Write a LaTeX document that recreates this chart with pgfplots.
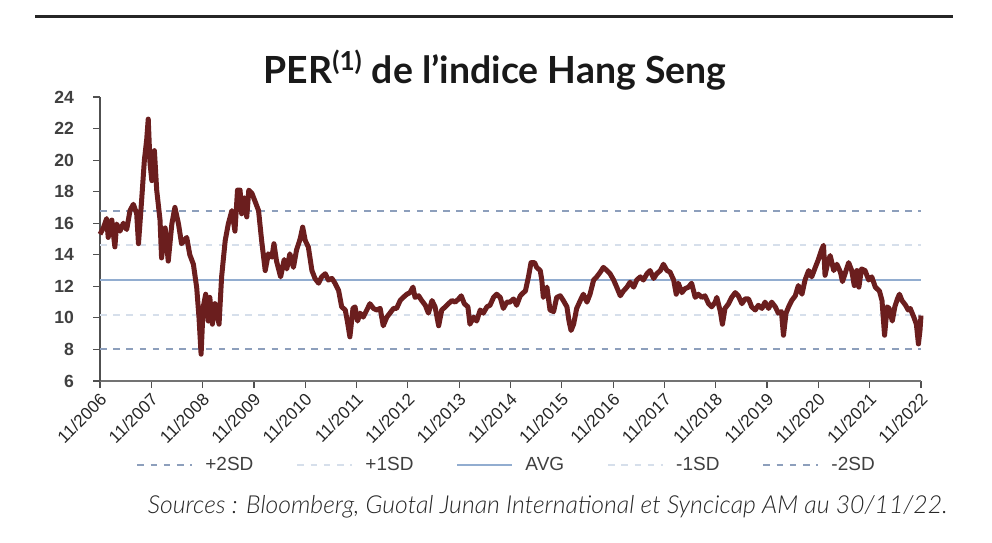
\documentclass[border=0pt]{standalone}
\usepackage{pgfplots}
\pgfplotsset{compat=1.18}
\usepackage{fontspec}
\setmainfont{Liberation Sans}
\newfontfamily\titlefont{Lato}
\newfontfamily\srcfont{Lato Light}
\definecolor{perline}{HTML}{6B1E1E}
\definecolor{sdtwo}{HTML}{8D9FBC}
\definecolor{sdone}{HTML}{D6DFEB}
\definecolor{avgc}{HTML}{92ADD0}
\definecolor{axisc}{HTML}{505050}

\pgfplotstableread{
t v
0 15.3
0.065 15.7
0.13 16.3
0.16 15.1
0.23 16.2
0.29 14.5
0.325 15.95
0.39 15.5
0.455 16.0
0.52 15.6
0.585 16.8
0.65 17.2
0.715 16.6
0.75 14.7
0.81 17.4
0.865 20.0
0.91 21.3
0.94 22.6
0.975 19.8
1.01 18.7
1.06 20.6
1.105 18.1
1.17 16.2
1.2 13.8
1.27 15.7
1.33 13.6
1.4 15.95
1.46 17.0
1.53 15.95
1.59 14.7
1.69 15.1
1.75 14.0
1.82 13.4
1.885 11.9
1.93 10.0
1.97 7.7
2.01 10.65
2.06 11.5
2.11 9.8
2.14 11.3
2.19 9.6
2.24 10.9
2.32 9.6
2.37 12.6
2.44 14.9
2.5 15.95
2.57 16.8
2.63 15.5
2.68 18.1
2.73 18.1
2.76 16.6
2.81 17.6
2.86 16.4
2.9 18.1
2.96 17.9
3.02 17.4
3.09 16.8
3.15 14.9
3.22 13.0
3.28 14.06
3.35 13.85
3.39 14.7
3.44 13.6
3.52 12.6
3.59 13.7
3.64 13.1
3.70 14.06
3.77 13.2
3.83 14.3
3.90 15.0
3.95 15.75
4.00 14.9
4.06 14.5
4.13 13.0
4.19 12.5
4.26 12.2
4.32 12.6
4.39 12.8
4.45 12.4
4.52 12.5
4.58 12.2
4.65 11.74
4.71 10.7
4.78 10.5
4.82 9.8
4.87 8.8
4.93 10.6
4.97 10.7
5.02 9.8
5.07 10.3
5.13 10.05
5.20 10.5
5.26 10.9
5.33 10.6
5.39 10.5
5.46 10.6
5.52 9.5
5.59 10.05
5.65 10.3
5.72 10.6
5.78 10.6
5.85 11.1
5.91 11.3
5.98 11.5
6.04 11.6
6.10 11.95
6.14 11.3
6.21 11.4
6.27 11.1
6.34 10.8
6.40 10.3
6.47 11.1
6.53 10.7
6.60 9.5
6.66 10.5
6.73 10.7
6.79 10.9
6.86 11.1
6.92 11.0
6.99 11.2
7.04 11.4
7.10 10.9
7.17 10.7
7.21 9.6
7.28 10.05
7.34 9.8
7.41 10.5
7.47 10.3
7.54 10.7
7.60 10.8
7.67 11.3
7.73 11.5
7.80 11.3
7.86 10.6
7.93 11.0
7.99 11.0
8.06 11.2
8.12 10.8
8.19 11.4
8.25 11.6
8.29 11.7
8.35 12.6
8.40 13.5
8.47 13.5
8.51 13.2
8.58 13.0
8.61 12.4
8.64 11.3
8.71 11.95
8.77 10.5
8.84 10.4
8.90 11.3
8.97 11.4
9.03 11.1
9.10 10.7
9.14 9.8
9.18 9.2
9.23 9.6
9.29 10.6
9.36 11.1
9.42 11.5
9.49 11.0
9.55 11.5
9.62 12.4
9.68 12.6
9.75 12.9
9.81 13.2
9.88 13.0
9.94 12.8
10.01 12.4
10.07 11.95
10.14 11.4
10.20 11.7
10.27 11.95
10.33 12.26
10.40 11.95
10.46 12.4
10.53 12.6
10.59 12.4
10.66 12.8
10.72 13.0
10.79 12.5
10.85 12.8
10.92 13.0
10.98 13.4
11.05 13.0
11.11 12.9
11.18 12.4
11.23 11.5
11.27 12.2
11.34 11.6
11.40 11.85
11.47 11.95
11.53 12.2
11.60 11.3
11.66 11.5
11.73 11.3
11.79 11.4
11.86 10.9
11.92 10.7
11.99 11.0
12.02 11.3
12.09 10.4
12.13 9.6
12.18 10.6
12.25 10.9
12.31 11.3
12.38 11.6
12.44 11.4
12.51 10.9
12.57 11.2
12.64 11.2
12.70 10.7
12.77 10.5
12.83 10.8
12.90 10.6
12.96 11.0
13.03 10.6
13.09 11.0
13.16 10.7
13.22 10.3
13.28 10.4
13.32 8.9
13.37 10.3
13.42 10.7
13.48 11.1
13.55 11.4
13.61 12.05
13.68 11.5
13.74 12.4
13.81 13.0
13.87 12.6
13.94 13.2
14.00 13.7
14.06 14.3
14.10 14.6
14.13 12.7
14.19 13.6
14.23 13.95
14.30 13.0
14.36 13.4
14.43 12.9
14.47 12.3
14.52 12.8
14.59 13.5
14.65 13.0
14.70 12.05
14.75 13.0
14.79 11.95
14.84 13.1
14.91 13.0
14.98 12.4
15.04 12.6
15.11 11.95
15.19 11.7
15.24 11.1
15.29 8.9
15.34 10.7
15.38 10.6
15.44 9.8
15.49 10.7
15.54 11.2
15.58 11.5
15.63 11.1
15.70 10.8
15.75 10.5
15.79 10.6
15.86 10.05
15.91 9.6
15.95 8.35
15.98 9.2
16.0 10.15
}\perdata

\begin{document}
\begin{tikzpicture}
\useasboundingbox (0pt,0pt) rectangle (496pt,271pt);
\fill[white] (0pt,0pt) rectangle (496pt,271pt);
\draw[line width=1.5pt, black!85] (17.5pt,262.5pt) -- (476.5pt,262.5pt);
\node[font=\titlefont\bfseries\fontsize{18.7}{21}\selectfont, text=black!90] at (247.5pt,236pt) {PER\textsuperscript{(1)} de l’indice Hang Seng};
\begin{axis}[
  at={(50pt,80.5pt)}, anchor=south west,
  scale only axis, width=410.5pt, height=142pt,
  xmin=0, xmax=16, ymin=6, ymax=24,
  axis x line*=bottom, axis y line*=left,
  x axis line style={axisc!80, line width=0.8pt},
  y axis line style={axisc, line width=0.8pt},
  tick align=outside,
  major tick length=3.5pt,
  tick style={axisc, line width=0.6pt},
  xtick={0,1,...,16},
  xticklabels={11/2006,11/2007,11/2008,11/2009,11/2010,11/2011,11/2012,11/2013,11/2014,11/2015,11/2016,11/2017,11/2018,11/2019,11/2020,11/2021,11/2022},
  ytick={6,8,...,24},
  /pgf/number format/assume math mode=true,
  xticklabel style={xshift=2.5pt, yshift=-3.5pt, rotate=45, anchor=east, font=\fontsize{8.6}{10}\selectfont, text=black!85, inner sep=1pt},
  yticklabel style={font=\bfseries\fontsize{8.8}{10}\selectfont, text=black!75, xshift=-6pt},
  legend style={at={(0.494,-0.296)}, anchor=center, draw=none, fill=none,
    font=\fontsize{9.5}{11}\selectfont, text=black!75,
    nodes={inner xsep=0pt},
    /tikz/every odd column/.append style={column sep=6pt},
    /tikz/every even column/.append style={column sep=21.5pt}},
  legend columns=5,
  legend image code/.code={\draw[#1] (0pt,0pt) -- (27.5pt,0pt);},
  clip=false,
]
\addplot[sdtwo, line width=1pt, dash pattern=on 3.3pt off 3.3pt] coordinates {(0,16.8) (16,16.8)};
\addlegendentry{+2SD}
\addplot[sdone, line width=1pt, dash pattern=on 3.3pt off 3.3pt] coordinates {(0,14.6) (16,14.6)};
\addlegendentry{+1SD}
\addplot[avgc, line width=1pt] coordinates {(0,12.4) (16,12.4)};
\addlegendentry{AVG}
\addplot[sdone, line width=1pt, dash pattern=on 3.3pt off 3.3pt] coordinates {(0,10.2) (16,10.2)};
\addlegendentry{-1SD}
\addplot[sdtwo, line width=1pt, dash pattern=on 3.3pt off 3.3pt] coordinates {(0,8.0) (16,8.0)};
\addlegendentry{-2SD}
\addplot[perline, line width=2.5pt, line join=round, forget plot] table[x=t, y=v] {\perdata};
\end{axis}
\node[anchor=east, inner sep=0pt, font=\srcfont\itshape\fontsize{12.4}{14}\selectfont, text=black!85] at (474pt,17.5pt) {Sources : Bloomberg, Guotal Junan International et Syncicap AM au 30/11/22.};
\end{tikzpicture}
\end{document}
